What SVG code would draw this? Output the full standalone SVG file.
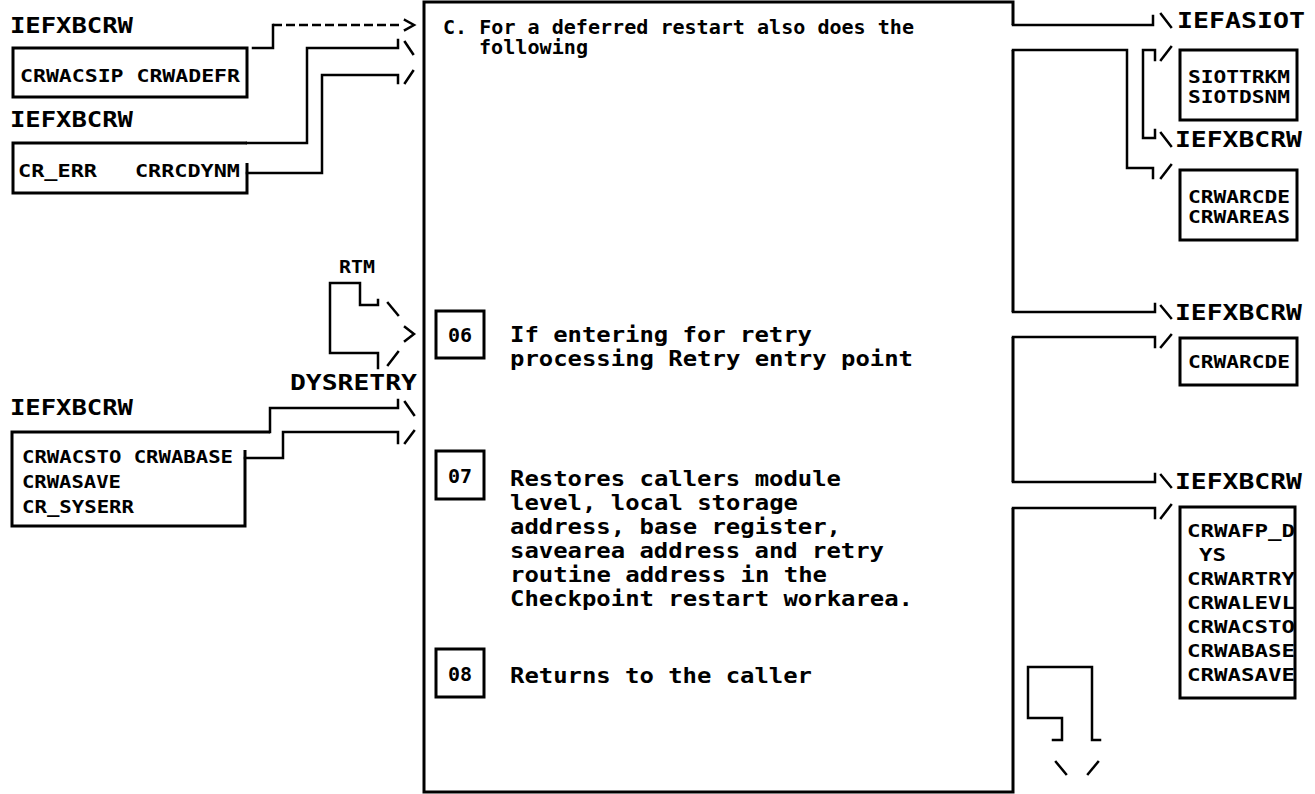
<svg xmlns="http://www.w3.org/2000/svg" width="1315" height="794" viewBox="0 0 1315 794">
<style>
.ln{fill:none;stroke:#000;stroke-width:2.5;stroke-linecap:square;stroke-linejoin:miter}
.ds{fill:none;stroke:#000;stroke-width:2.5;stroke-dasharray:9 4}
.bx{fill:none;stroke:#000;stroke-width:3}
.t{font-family:"DejaVu Sans Mono","Liberation Mono",monospace;font-weight:bold;fill:#000}
.lbl{font-size:22px}
.sm{font-size:18px}
.hd{font-size:19px}
.st{font-size:22px}
.num{font-size:20px}
</style>
<rect x="0" y="0" width="1315" height="794" fill="#fff"/>

<g id="main">
<path class="bx" d="M1013 25 V2 H424 V792 H1013 V508 M1013 482 V337 M1013 312 V50"/>
<text class="t hd" x="443" y="34" textLength="471" lengthAdjust="spacingAndGlyphs">C. For a deferred restart also does the</text>
<text class="t hd" x="479" y="54" textLength="109" lengthAdjust="spacingAndGlyphs">following</text>
</g>

<g id="step06">
<rect class="bx" x="436" y="311" width="48" height="47"/>
<text class="t num" x="460" y="342" text-anchor="middle">06</text>
<text class="t st" x="510" y="342" textLength="302" lengthAdjust="spacingAndGlyphs">If entering for retry</text>
<text class="t st" x="510" y="366" textLength="403" lengthAdjust="spacingAndGlyphs">processing Retry entry point</text>
</g>

<g id="step07">
<rect class="bx" x="436" y="451" width="48" height="48"/>
<text class="t num" x="460" y="483" text-anchor="middle">07</text>
<text class="t st" x="510" y="486" textLength="331" lengthAdjust="spacingAndGlyphs">Restores callers module</text>
<text class="t st" x="510" y="510" textLength="288" lengthAdjust="spacingAndGlyphs">level, local storage</text>
<text class="t st" x="510" y="534" textLength="331" lengthAdjust="spacingAndGlyphs">address, base register,</text>
<text class="t st" x="510" y="558" textLength="374" lengthAdjust="spacingAndGlyphs">savearea address and retry</text>
<text class="t st" x="510" y="582" textLength="317" lengthAdjust="spacingAndGlyphs">routine address in the</text>
<text class="t st" x="510" y="606" textLength="403" lengthAdjust="spacingAndGlyphs">Checkpoint restart workarea.</text>
</g>

<g id="step08">
<rect class="bx" x="436" y="649" width="48" height="48"/>
<text class="t num" x="460" y="681" text-anchor="middle">08</text>
<text class="t st" x="510" y="683" textLength="302" lengthAdjust="spacingAndGlyphs">Returns to the caller</text>
</g>

<g id="in1">
<text class="t lbl" x="10" y="33" textLength="123" lengthAdjust="spacingAndGlyphs">IEFXBCRW</text>
<rect class="bx" x="13" y="48" width="234" height="49"/>
<text class="t sm" x="20" y="82" textLength="220" lengthAdjust="spacingAndGlyphs">CRWACSIP CRWADEFR</text>
</g>

<g id="in2">
<text class="t lbl" x="10" y="127" textLength="123" lengthAdjust="spacingAndGlyphs">IEFXBCRW</text>
<path class="bx" d="M247 163 V193 H13 V143 H247"/>
<text class="t sm" x="18" y="177" textLength="79" lengthAdjust="spacingAndGlyphs">CR_ERR</text>
<text class="t sm" x="135" y="177" textLength="105" lengthAdjust="spacingAndGlyphs">CRRCDYNM</text>
</g>

<g id="rtm">
<text class="t sm" x="357" y="273" text-anchor="middle" textLength="36" lengthAdjust="spacingAndGlyphs">RTM</text>
</g>

<g id="dysretry">
<text class="t lbl" x="290" y="390" textLength="127" lengthAdjust="spacingAndGlyphs">DYSRETRY</text>
</g>

<g id="in3">
<text class="t lbl" x="10" y="415" textLength="123" lengthAdjust="spacingAndGlyphs">IEFXBCRW</text>
<path class="bx" d="M270 432 H12 V526 H245 V450"/>
<text class="t sm" x="22" y="463" textLength="211" lengthAdjust="spacingAndGlyphs">CRWACSTO CRWABASE</text>
<text class="t sm" x="22" y="488" textLength="99" lengthAdjust="spacingAndGlyphs">CRWASAVE</text>
<text class="t sm" x="22" y="513" textLength="112" lengthAdjust="spacingAndGlyphs">CR_SYSERR</text>
</g>

<g id="out1">
<text class="t lbl" x="1177" y="28" textLength="128" lengthAdjust="spacingAndGlyphs">IEFASIOT</text>
<rect class="bx" x="1180" y="50" width="117" height="70"/>
<text class="t sm" x="1188" y="83" textLength="102" lengthAdjust="spacingAndGlyphs">SIOTTRKM</text>
<text class="t sm" x="1188" y="103" textLength="102" lengthAdjust="spacingAndGlyphs">SIOTDSNM</text>
</g>

<g id="out2">
<text class="t lbl" x="1175" y="147" textLength="127" lengthAdjust="spacingAndGlyphs">IEFXBCRW</text>
<rect class="bx" x="1180" y="170" width="117" height="70"/>
<text class="t sm" x="1188" y="203" textLength="102" lengthAdjust="spacingAndGlyphs">CRWARCDE</text>
<text class="t sm" x="1188" y="223" textLength="102" lengthAdjust="spacingAndGlyphs">CRWAREAS</text>
</g>

<g id="out3">
<text class="t lbl" x="1175" y="320" textLength="127" lengthAdjust="spacingAndGlyphs">IEFXBCRW</text>
<rect class="bx" x="1180" y="338" width="117" height="47"/>
<text class="t sm" x="1188" y="368" textLength="102" lengthAdjust="spacingAndGlyphs">CRWARCDE</text>
</g>

<g id="out4">
<text class="t lbl" x="1175" y="489" textLength="127" lengthAdjust="spacingAndGlyphs">IEFXBCRW</text>
<rect class="bx" x="1180" y="507" width="115" height="191"/>
<text class="t sm" x="1187" y="537" textLength="108" lengthAdjust="spacingAndGlyphs">CRWAFP_D</text>
<text class="t sm" x="1199" y="561" textLength="27" lengthAdjust="spacingAndGlyphs">YS</text>
<text class="t sm" x="1187" y="585" textLength="108" lengthAdjust="spacingAndGlyphs">CRWARTRY</text>
<text class="t sm" x="1187" y="609" textLength="108" lengthAdjust="spacingAndGlyphs">CRWALEVL</text>
<text class="t sm" x="1187" y="633" textLength="108" lengthAdjust="spacingAndGlyphs">CRWACSTO</text>
<text class="t sm" x="1187" y="657" textLength="108" lengthAdjust="spacingAndGlyphs">CRWABASE</text>
<text class="t sm" x="1187" y="681" textLength="108" lengthAdjust="spacingAndGlyphs">CRWASAVE</text>
</g>

<g id="connectors">
<path class="ln" d="M253 48 H273 V25"/>
<path class="ds" d="M273 25 H403"/>
<path class="ln" d="M405 20 L414 25 L405 30"/>
<path class="ln" d="M247 143 H307 V48 H398 V40"/>
<path class="ln" d="M405 42 L413 54"/>
<path class="ln" d="M247 173 H322 V75 H398 V83"/>
<path class="ln" d="M405 83 L413 71"/>

<path class="ln" d="M378 300 V305 H360 V283 H330 V353 H378 V368"/>
<path class="ln" d="M388 303 L398 315"/>
<path class="ln" d="M405 327 L414 334 L405 341"/>
<path class="ln" d="M388 365 L398 352"/>

<path class="ln" d="M270 432 V408 H398 V400"/>
<path class="ln" d="M405 402 L414 415"/>
<path class="ln" d="M245 458 H283 V432 H398 V443"/>
<path class="ln" d="M405 443 L414 431"/>

<path class="ln" d="M1013 25 H1153 V16"/>
<path class="ln" d="M1161 14 L1171 27"/>
<path class="ln" d="M1155 60 V50 H1143 V138 H1155 V130"/>
<path class="ln" d="M1161 60 L1171 47"/>
<path class="ln" d="M1161 133 L1171 146"/>
<path class="ln" d="M1013 50 H1127 V168 H1153 V178"/>
<path class="ln" d="M1161 178 L1171 165"/>

<path class="ln" d="M1013 312 H1155 V304"/>
<path class="ln" d="M1161 306 L1171 318"/>
<path class="ln" d="M1013 337 H1155 V347"/>
<path class="ln" d="M1161 347 L1171 335"/>

<path class="ln" d="M1013 482 H1155 V474"/>
<path class="ln" d="M1161 475 L1171 487"/>
<path class="ln" d="M1013 508 H1155 V518"/>
<path class="ln" d="M1161 518 L1171 505"/>

<path class="ln" d="M1053 740 H1062 V718 H1028 V667 H1092 V740 H1100"/>
<path class="ln" d="M1056 762 L1066 774"/>
<path class="ln" d="M1098 762 L1088 774"/>
</g>
</svg>
